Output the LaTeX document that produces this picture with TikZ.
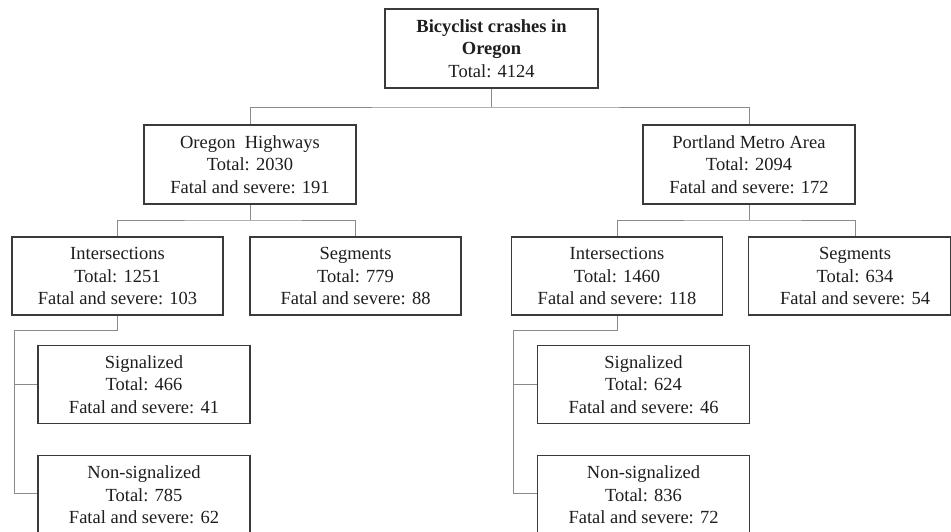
\documentclass[tikz,border=0pt]{standalone}
\usepackage{fontspec}
\setmainfont{Liberation Serif}
\begin{document}
\begin{tikzpicture}[x=1pt,y=-1pt]
\definecolor{boxc}{HTML}{3A3A3A}
\definecolor{linec}{HTML}{8A8A8A}
\definecolor{textc}{HTML}{1E1E1E}
\tikzset{
  box/.style={draw=boxc, line width=1.3pt, fill=white, minimum width=212pt,
    minimum height=79pt, align=center, inner sep=0pt, text=textc,
    font=\fontsize{18.5}{22.3}\selectfont},
  conn/.style={draw=linec, line width=1pt}
}
\useasboundingbox (0,0) rectangle (951,531);
\clip (0,0) rectangle (951,531);
\fill[white] (0,0) rectangle (951,531);

\node[box, minimum width=213pt] (top) at (491.5,48.5) {\textbf{Bicyclist crashes in}\\\textbf{Oregon}\\Total: 4124};
\node[box] (oh) at (250,164.5) {Oregon~ Highways\\Total: 2030\\Fatal and severe: 191};
\node[box] (pm) at (749,164.5) {Portland Metro Area\\Total: 2094\\Fatal and severe: 172};

\node[box, minimum width=211pt, minimum height=78pt] (int1) at (117.5,276) {Intersections\\Total: 1251\\Fatal and severe: 103};
\node[box, minimum width=211pt, minimum height=78pt] (seg1) at (355.5,276) {Segments\\Total: 779\\Fatal and severe: 88};
\node[box, minimum width=211pt, minimum height=78pt] (int2) at (617,276) {Intersections\\Total: 1460\\Fatal and severe: 118};
\node[box, minimum width=202pt, minimum height=78pt] (seg2) at (849.5,276) {\hspace*{11pt}Segments\\\hspace*{11pt}Total: 634\\\hspace*{11pt}Fatal and severe: 54};

\node[box, minimum height=78pt] (sig1) at (144,384.5) {Signalized\\Total: 466\\Fatal and severe: 41};
\node[box] (non1) at (144,495) {Non-signalized\\Total: 785\\Fatal and severe: 62};
\node[box, minimum height=78pt] (sig2) at (643.5,384.5) {Signalized\\Total: 624\\Fatal and severe: 46};
\node[box] (non2) at (643.5,495) {Non-signalized\\Total: 836\\Fatal and severe: 72};

\coordinate (j0) at (491.5,107);
\coordinate (j1) at (250,220);
\coordinate (j2) at (749,220);
\coordinate (k1) at (117.5,330);
\coordinate (m1) at (14,330);
\coordinate (k2) at (617,330);
\coordinate (m2) at (513,330);

\draw[conn] (top) -- (j0);
\draw[conn] (oh.north) |- (j0) -| (pm.north);
\draw[conn] (oh) -- (j1);
\draw[conn] (int1.north) |- (j1) -| (seg1.north);
\draw[conn] (pm) -- (j2);
\draw[conn] (int2.north) |- (j2) -| ([xshift=5.5pt]seg2.north);
\draw[conn] (int1) -- (k1) -- (m1) |- ([yshift=1.5pt]non1.west);
\draw[conn] (m1) |- (sig1.west);
\draw[conn] (int2) -- (k2) -- (m2) |- ([yshift=1.5pt]non2.west);
\draw[conn] (m2) |- (sig2.west);
\end{tikzpicture}
\end{document}
